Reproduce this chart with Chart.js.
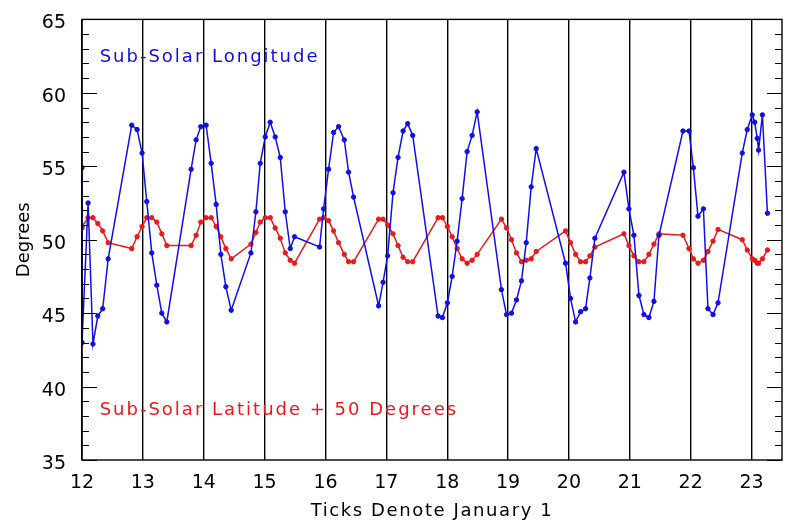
<!DOCTYPE html>
<html>
<head>
<meta charset="utf-8">
<script src="https://cdn.jsdelivr.net/npm/chart.js@4.4.0/dist/chart.umd.min.js"></script>
<style>
  html, body { margin: 0; padding: 0; background: #fff; }
</style>
</head>
<body>
<canvas id="subSolarChart" width="786" height="528"></canvas>
<script>
// sample times (fractional year), shared by both series
const years = [
  12.0, 12.0, 12.1, 12.18, 12.26, 12.34, 12.43,
  12.817, 12.905, 12.987, 13.064, 13.146, 13.229, 13.311, 13.393,
  13.793, 13.875, 13.952, 14.039, 14.122, 14.204, 14.281, 14.363, 14.451,
  14.775, 14.857, 14.928, 15.010, 15.092, 15.174, 15.257, 15.339, 15.421, 15.492,
  15.903, 15.969, 16.051, 16.133, 16.215, 16.309, 16.380, 16.462,
  16.873, 16.946, 17.021, 17.110, 17.192, 17.275, 17.350, 17.433,
  17.850, 17.921, 18.003, 18.081, 18.163, 18.245, 18.327, 18.409, 18.492,
  18.891, 18.974, 19.056, 19.138, 19.220, 19.298, 19.380, 19.462,
  19.944, 20.026, 20.109, 20.191, 20.273, 20.344, 20.426,
  20.903, 20.985, 21.067, 21.150, 21.232, 21.314, 21.396, 21.479,
  21.873, 21.972, 22.044, 22.120, 22.209, 22.284, 22.367, 22.449,
  22.847, 22.929, 23.011, 23.052, 23.093, 23.115, 23.178, 23.261
];

const longitude = [
  54.9, 43.0, 52.5, 42.9, 44.8, 45.3, 48.7,
  57.8, 57.5, 55.9, 52.6, 49.1, 46.9, 45.0, 44.4,
  54.8, 56.8, 57.7, 57.8, 55.2, 52.4, 49.0, 46.8, 45.2,
  49.1, 51.9, 55.2, 57.0, 58.0, 57.0, 55.6, 51.9, 49.4, 50.2,
  49.5, 52.1, 54.8, 57.3, 57.7, 56.8, 54.6, 52.9,
  45.5, 47.1, 48.9, 53.2, 55.6, 57.4, 57.9, 57.1,
  44.8, 44.7, 45.7, 47.5, 49.9, 52.8, 56.0, 57.1, 58.7,
  46.6, 44.9, 45.0, 45.9, 47.2, 49.8, 53.6, 56.2,
  48.4, 46.0, 44.4, 45.1, 45.3, 47.4, 50.1,
  54.6, 52.1, 50.3, 46.2, 44.9, 44.7, 45.8, 50.3,
  57.4, 57.4, 54.9, 51.6, 52.1, 45.3, 44.9, 45.7,
  55.9, 57.5, 58.5, 58.0, 56.9, 56.1, 58.5, 51.8
];

// sub-solar latitude + 50 degrees
const latitude = [
  50.8, 50.9, 51.5, 51.5, 51.1, 50.6, 49.8,
  49.4, 50.2, 50.9, 51.5, 51.5, 51.2, 50.4, 49.6,
  49.6, 50.3, 51.2, 51.5, 51.5, 50.9, 50.2, 49.4, 48.7,
  49.7, 50.5, 51.2, 51.5, 51.5, 50.8, 50.1, 49.1, 48.6, 48.4,
  51.4, 51.5, 51.3, 50.6, 49.8, 49.0, 48.5, 48.5,
  51.4, 51.4, 51.0, 50.4, 49.6, 48.8, 48.5, 48.5,
  51.5, 51.5, 50.9, 50.2, 49.4, 48.7, 48.4, 48.6, 49.0,
  51.4, 50.8, 50.0, 49.1, 48.5, 48.6, 48.7, 49.2,
  50.6, 49.8, 49.0, 48.5, 48.5, 48.9, 49.5,
  50.4, 49.6, 48.9, 48.5, 48.5, 49.0, 49.7, 50.4,
  50.3, 49.4, 48.7, 48.4, 48.6, 49.2, 49.9, 50.7,
  50.0, 49.3, 48.7, 48.6, 48.4, 48.4, 48.7, 49.3
];

const xTicks = [12, 13, 14, 15, 16, 17, 18, 19, 20, 21, 22, 23];
const yTicks = [35, 40, 45, 50, 55, 60, 65];

const BLUE = 'rgb(15, 15, 230)';
const RED = 'rgb(235, 25, 25)';
const FONT = 'DejaVu Sans';

// box around the plot, small inward ticks on both y sides, and the texts
const frameTicks = {
  id: 'frameTicks',
  afterDatasetsDraw(chart) {
    const { ctx, chartArea: a, scales: { x, y } } = chart;
    ctx.save();
    ctx.strokeStyle = '#000';
    ctx.lineWidth = 1.4;
    ctx.strokeRect(a.left, a.top, a.right - a.left, a.bottom - a.top);
    ctx.lineWidth = 1.2;
    ctx.beginPath();
    for (let v = y.min; v <= y.max; v++) {
      const py = Math.round(y.getPixelForValue(v)) + 0.5;
      const len = v % 5 === 0 ? 15 : 7;
      ctx.moveTo(a.left, py); ctx.lineTo(a.left + len, py);
      ctx.moveTo(a.right, py); ctx.lineTo(a.right - len, py);
    }
    ctx.stroke();

    // in-plot series labels
    ctx.font = '18px "' + FONT + '"';
    ctx.letterSpacing = '2px';
    ctx.textBaseline = 'middle';
    ctx.textAlign = 'left';
    ctx.fillStyle = BLUE;
    ctx.fillText('Sub-Solar Longitude', x.getPixelForValue(12.29), y.getPixelForValue(62.4));
    ctx.fillStyle = RED;
    ctx.fillText('Sub-Solar Latitude + 50 Degrees', x.getPixelForValue(12.29), y.getPixelForValue(38.4));

    // x axis title
    ctx.letterSpacing = '1.6px';
    ctx.fillStyle = '#000';
    ctx.textAlign = 'center';
    ctx.fillText('Ticks Denote January 1', (a.left + a.right) / 2, 511);
    ctx.restore();
  }
};

const ctx = document.getElementById('subSolarChart').getContext('2d');

new Chart(ctx, {
  type: 'scatter',
  data: {
    datasets: [
      {
        label: 'Sub-Solar Longitude',
        data: years.map((t, i) => ({ x: t, y: longitude[i] })),
        showLine: true,
        borderColor: BLUE,
        backgroundColor: BLUE,
        borderWidth: 1.5,
        pointRadius: 2.2,
        pointBorderWidth: 1,
        pointHoverRadius: 2.2
      },
      {
        label: 'Sub-Solar Latitude + 50 Degrees',
        data: years.map((t, i) => ({ x: t, y: latitude[i] })),
        showLine: true,
        borderColor: RED,
        backgroundColor: RED,
        borderWidth: 1.5,
        pointRadius: 2.2,
        pointBorderWidth: 1,
        pointHoverRadius: 2.2
      }
    ]
  },
  options: {
    responsive: false,
    animation: false,
    devicePixelRatio: 1,
    layout: { padding: { top: 8, right: 4, left: 0, bottom: 0 } },
    plugins: {
      legend: { display: false },
      tooltip: { enabled: false }
    },
    scales: {
      x: {
        type: 'linear',
        min: 12,
        max: 23.5,
        afterBuildTicks: scale => { scale.ticks = xTicks.map(v => ({ value: v })); },
        afterFit: scale => { scale.height = 68; },
        grid: { color: '#000', lineWidth: 1.4, drawTicks: false },
        border: { display: false },
        ticks: {
          color: '#000',
          padding: 12,
          maxRotation: 0,
          font: { family: FONT, size: 19 }
        }
      },
      y: {
        min: 35,
        max: 65,
        afterBuildTicks: scale => { scale.ticks = yTicks.map(v => ({ value: v })); },
        afterFit: scale => { scale.width = 82; },
        grid: { display: false },
        border: { display: false },
        ticks: {
          color: '#000',
          padding: 8,
          labelOffset: 4,
          font: { family: FONT, size: 19 }
        },
        title: {
          display: true,
          text: 'Degrees',
          color: '#000',
          font: { family: FONT, size: 18 },
          padding: { top: 14, bottom: 0 }
        }
      }
    }
  },
  plugins: [frameTicks]
});
</script>
</body>
</html>
